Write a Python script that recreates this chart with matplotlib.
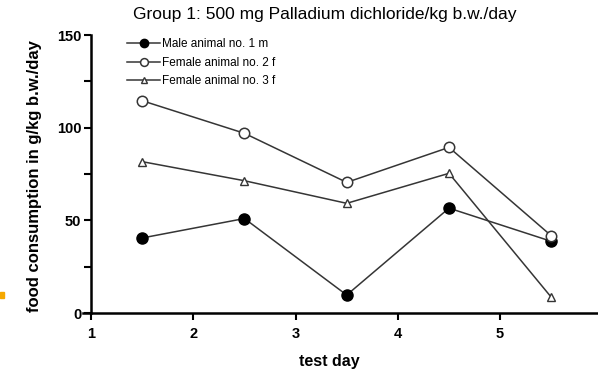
import matplotlib.pyplot as plt
from matplotlib.ticker import MultipleLocator
from matplotlib.patches import Rectangle

plt.rcParams['font.family'] = ['Liberation Sans', 'DejaVu Sans']

days = [1.5, 2.5, 3.5, 4.5, 5.5]
male_1 = [40.5, 51, 9.7, 56.6, 38.7]
female_2 = [114.6, 97, 70.5, 89.4, 41.7]
female_3 = [81.7, 71.4, 59.2, 75.4, 8.5]

fig = plt.figure(figsize=(5.98, 3.72), dpi=100)
ax = fig.add_axes([0.1385, 0.1586, 0.886, 0.747])

line_kw = dict(color='#353535', lw=1.1)
ax.plot(days, male_1, marker='o', ms=8, mfc='black', mec='black',
        label='Male animal no. 1 m', **line_kw)
ax.plot(days, female_2, marker='o', ms=7.5, mfc='white', mec='#353535', mew=1.1,
        label='Female animal no. 2 f', **line_kw)
ax.plot(days, female_3, marker='^', ms=6, mfc='white', mec='#353535', mew=1.0,
        label='Female animal no. 3 f', **line_kw)

ax.set_xlim(0.92, 6.1)
ax.set_ylim(0, 150)
ax.spines['left'].set_position(('data', 1))
ax.spines['left'].set_bounds(0, 150)
for s in ['top', 'right']:
    ax.spines[s].set_visible(False)
for s in ['left', 'bottom']:
    ax.spines[s].set_linewidth(1.8)

ax.set_xticks([1, 2, 3, 4, 5, 6])
ax.yaxis.set_major_locator(MultipleLocator(50))
ax.yaxis.set_minor_locator(MultipleLocator(25))
ax.tick_params(which='both', direction='out', width=1.5, length=5)
ax.tick_params(axis='both', labelsize=10.5)
ax.tick_params(axis='x', pad=5)
ax.tick_params(axis='y', pad=2)
for lab in ax.get_xticklabels() + ax.get_yticklabels():
    lab.set_fontweight('bold')

ax.set_xlabel('test day', fontsize=11.5, fontweight='bold', va='center')
ax.xaxis.set_label_coords(0.465, -0.176)
ax.set_ylabel('food consumption in g/kg b.w./day', fontsize=12,
              fontweight='bold')
ax.yaxis.set_label_coords(-0.077, 0.493)

fig.text(0.5435, 0.962, 'Group 1: 500 mg Palladium dichloride/kg b.w./day',
         fontsize=12.5, ha='center', va='center')

ax.legend(loc='upper left', bbox_to_anchor=(0.075, 1.005), frameon=False,
          fontsize=8.5, handlelength=2.8, handletextpad=0.15, labelspacing=0.55,
          markerscale=0.75, borderaxespad=0)

# small orange tag at left edge
fig.patches.append(Rectangle((0, 0.2), 0.006, 0.016, transform=fig.transFigure,
                             color='#f5a800', zorder=5))

fig.savefig('out.png', dpi=100)
